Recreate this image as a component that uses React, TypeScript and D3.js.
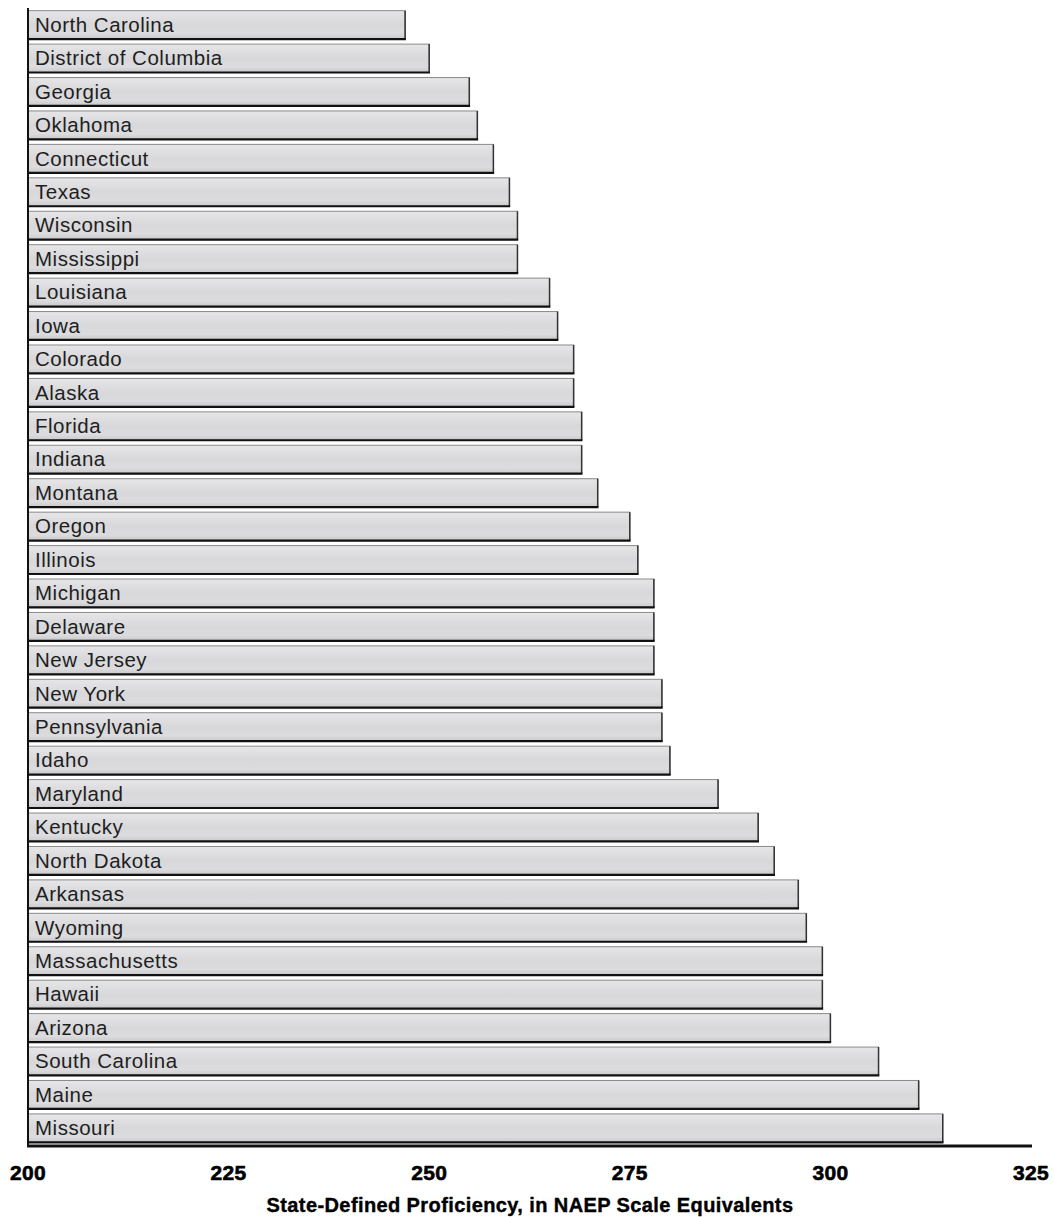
import React from "react";
import * as d3 from "d3";

const states = [
  "North Carolina", "District of Columbia", "Georgia", "Oklahoma", "Connecticut",
  "Texas", "Wisconsin", "Mississippi", "Louisiana", "Iowa", "Colorado", "Alaska",
  "Florida", "Indiana", "Montana", "Oregon", "Illinois", "Michigan", "Delaware",
  "New Jersey", "New York", "Pennsylvania", "Idaho", "Maryland", "Kentucky",
  "North Dakota", "Arkansas", "Wyoming", "Massachusetts", "Hawaii", "Arizona",
  "South Carolina", "Maine", "Missouri",
];
const values = [
  247, 250, 255, 256, 258, 260, 261, 261, 265, 266, 268, 268, 269, 269, 271, 275,
  276, 278, 278, 278, 279, 279, 280, 286, 291, 293, 296, 297, 299, 299, 300, 306,
  311, 314,
];
const ticks = [200, 225, 250, 275, 300, 325];
const axisTitle = "State-Defined Proficiency, in NAEP Scale Equivalents";

export default function App() {
  const W = 1054, H = 1217;
  const x = d3.scaleLinear().domain([200, 325]).range([28, 1031]);
  const y = d3.scaleBand().domain(states).range([9, 1144]).paddingInner(0.15).paddingOuter(0.05);
  const bw = y.bandwidth();
  const font = "Liberation Sans, Arial, Helvetica, sans-serif";
  return (
    <svg width={W} height={H} style={{ position: "absolute", left: 0, top: 0, background: "#fff" }}>
      <defs>
        <linearGradient id="barg" x1="0" y1="0" x2="0" y2="1">
          <stop offset="0" stopColor="#e6e6e8" />
          <stop offset="0.5" stopColor="#d8d8db" />
          <stop offset="0.8" stopColor="#dcdcde" />
          <stop offset="1" stopColor="#c9c9cc" />
        </linearGradient>
      </defs>
      {states.map((s, i) => {
        const y0 = y(s)!;
        const x0 = x(200);
        const x1 = x(values[i]);
        return (
          <g key={s}>
            <rect x={x0} y={y0} width={x1 - x0} height={bw} fill="url(#barg)" stroke="#8a8a8a" strokeWidth={1} />
            <line x1={x1} x2={x1} y1={y0} y2={y0 + bw} stroke="#333" strokeWidth={1.5} />
            <line x1={x0} x2={x1 + 0.75} y1={y0 + bw} y2={y0 + bw} stroke="#111" strokeWidth={2.2} />
            <text x={35} y={y0 + bw / 2 + 7} fontFamily={font} fontSize={20.5} letterSpacing={0.5} fill="#1e1e1e">{s}</text>
          </g>
        );
      })}
      <line x1={28} x2={28} y1={8} y2={1147} stroke="#111" strokeWidth={2} />
      <line x1={27} x2={1032} y1={1146} y2={1146} stroke="#111" strokeWidth={3} />
      {ticks.map((t) => (
        <text key={t} x={x(t)} y={1180} textAnchor="middle" fontFamily={font} fontWeight="bold" fontSize={21} letterSpacing={0.3} stroke="#000" strokeWidth={0.6} fill="#000">{t}</text>
      ))}
      <text x={530} y={1212} textAnchor="middle" fontFamily={font} fontWeight="bold" fontSize={20} letterSpacing={0.4} stroke="#000" strokeWidth={0.4} fill="#000">{axisTitle}</text>
    </svg>
  );
}
